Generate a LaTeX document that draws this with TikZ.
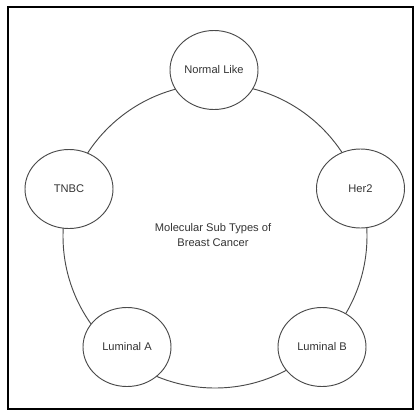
\documentclass[tikz,border=0pt]{standalone}
\usepackage{fontspec}
\setmainfont{Liberation Sans}
\usetikzlibrary{shapes.geometric}
\definecolor{ink}{HTML}{333333}
\definecolor{linegray}{HTML}{4A4A4A}

\begin{document}
\begin{tikzpicture}[
    x=0.03cm, y=-0.03cm,
    subtype/.style={draw=linegray, ellipse, fill=white, line width=0.8pt, inner sep=0pt, minimum width=2.64cm, minimum height=2.37cm, text=ink, font=\fontsize{9.5}{11.5}\selectfont},
    ring/.style={draw=linegray, line width=0.8pt}
  ]
    \useasboundingbox (0,0) rectangle (415,410);
    \draw[line width=0.9pt] (8,7) rectangle (413,409);
    \coordinate (hub) at (215,236);
    \draw[ring] (hub) circle (152);
    \node[text=ink, align=center, font=\fontsize{9.5}{13}\selectfont] (title) at (213,235) {Molecular Sub Types of\\Breast Cancer};
    \node[subtype] (normal) at (214,70) {Normal Like};
    \node[subtype] (her) at (360.5,188.5) {Her2};
    \node[subtype] (tnbc) at (69,189) {TNBC};
    \node[subtype] (luma) at (127,347) {Luminal A};
    \node[subtype] (lumb) at (322,347) {Luminal B};
  \end{tikzpicture}
\end{document}
